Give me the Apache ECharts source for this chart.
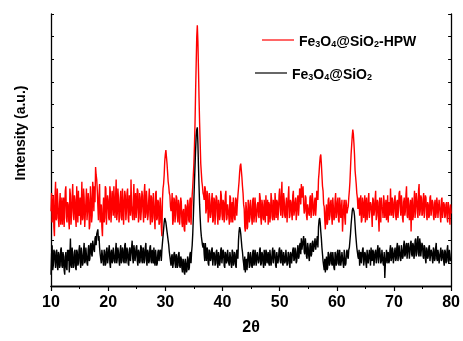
<!DOCTYPE html>
<html>
<head>
<meta charset="utf-8">
<script src="https://cdn.jsdelivr.net/npm/echarts@6/dist/echarts.min.js"></script>
<style>html,body{margin:0;padding:0;background:#fff}#c{width:463px;height:341px}</style>
</head>
<body>
<div id="c"></div>
<script>
// 2θ sampling (even tenths)
const twoTheta = [
10,10.2,10.4,10.6,10.8, 11,11.2,11.4,11.6,11.8, 12,12.2,12.4,12.6,12.8, 13,13.2,13.4,13.6,13.8, 14,14.2,14.4,14.6,14.8,
15,15.2,15.4,15.6,15.8, 16,16.2,16.4,16.6,16.8, 17,17.2,17.4,17.6,17.8, 18,18.2,18.4,18.6,18.8, 19,19.2,19.4,19.6,19.8,
20,20.2,20.4,20.6,20.8, 21,21.2,21.4,21.6,21.8, 22,22.2,22.4,22.6,22.8, 23,23.2,23.4,23.6,23.8, 24,24.2,24.4,24.6,24.8,
25,25.2,25.4,25.6,25.8, 26,26.2,26.4,26.6,26.8, 27,27.2,27.4,27.6,27.8, 28,28.2,28.4,28.6,28.8, 29,29.2,29.4,29.6,29.8,
30,30.2,30.4,30.6,30.8, 31,31.2,31.4,31.6,31.8, 32,32.2,32.4,32.6,32.8, 33,33.2,33.4,33.6,33.8, 34,34.2,34.4,34.6,34.8,
35,35.2,35.4,35.6,35.8, 36,36.2,36.4,36.6,36.8, 37,37.2,37.4,37.6,37.8, 38,38.2,38.4,38.6,38.8, 39,39.2,39.4,39.6,39.8,
40,40.2,40.4,40.6,40.8, 41,41.2,41.4,41.6,41.8, 42,42.2,42.4,42.6,42.8, 43,43.2,43.4,43.6,43.8, 44,44.2,44.4,44.6,44.8,
45,45.2,45.4,45.6,45.8, 46,46.2,46.4,46.6,46.8, 47,47.2,47.4,47.6,47.8, 48,48.2,48.4,48.6,48.8, 49,49.2,49.4,49.6,49.8,
50,50.2,50.4,50.6,50.8, 51,51.2,51.4,51.6,51.8, 52,52.2,52.4,52.6,52.8, 53,53.2,53.4,53.6,53.8, 54,54.2,54.4,54.6,54.8,
55,55.2,55.4,55.6,55.8, 56,56.2,56.4,56.6,56.8, 57,57.2,57.4,57.6,57.8, 58,58.2,58.4,58.6,58.8, 59,59.2,59.4,59.6,59.8,
60,60.2,60.4,60.6,60.8, 61,61.2,61.4,61.6,61.8, 62,62.2,62.4,62.6,62.8, 63,63.2,63.4,63.6,63.8, 64,64.2,64.4,64.6,64.8,
65,65.2,65.4,65.6,65.8, 66,66.2,66.4,66.6,66.8, 67,67.2,67.4,67.6,67.8, 68,68.2,68.4,68.6,68.8, 69,69.2,69.4,69.6,69.8,
70,70.2,70.4,70.6,70.8, 71,71.2,71.4,71.6,71.8, 72,72.2,72.4,72.6,72.8, 73,73.2,73.4,73.6,73.8, 74,74.2,74.4,74.6,74.8,
75,75.2,75.4,75.6,75.8, 76,76.2,76.4,76.6,76.8, 77,77.2,77.4,77.6,77.8, 78,78.2,78.4,78.6,78.8, 79,79.2,79.4,79.6,79.8,
80
];
// 2θ sampling (odd tenths)
const twoThetaOdd = [
10.1,10.3,10.5,10.7,10.9, 11.1,11.3,11.5,11.7,11.9, 12.1,12.3,12.5,12.7,12.9, 13.1,13.3,13.5,13.7,13.9, 14.1,14.3,14.5,14.7,14.9,
15.1,15.3,15.5,15.7,15.9, 16.1,16.3,16.5,16.7,16.9, 17.1,17.3,17.5,17.7,17.9, 18.1,18.3,18.5,18.7,18.9, 19.1,19.3,19.5,19.7,19.9,
20.1,20.3,20.5,20.7,20.9, 21.1,21.3,21.5,21.7,21.9, 22.1,22.3,22.5,22.7,22.9, 23.1,23.3,23.5,23.7,23.9, 24.1,24.3,24.5,24.7,24.9,
25.1,25.3,25.5,25.7,25.9, 26.1,26.3,26.5,26.7,26.9, 27.1,27.3,27.5,27.7,27.9, 28.1,28.3,28.5,28.7,28.9, 29.1,29.3,29.5,29.7,29.9,
30.1,30.3,30.5,30.7,30.9, 31.1,31.3,31.5,31.7,31.9, 32.1,32.3,32.5,32.7,32.9, 33.1,33.3,33.5,33.7,33.9, 34.1,34.3,34.5,34.7,34.9,
35.1,35.3,35.5,35.7,35.9, 36.1,36.3,36.5,36.7,36.9, 37.1,37.3,37.5,37.7,37.9, 38.1,38.3,38.5,38.7,38.9, 39.1,39.3,39.5,39.7,39.9,
40.1,40.3,40.5,40.7,40.9, 41.1,41.3,41.5,41.7,41.9, 42.1,42.3,42.5,42.7,42.9, 43.1,43.3,43.5,43.7,43.9, 44.1,44.3,44.5,44.7,44.9,
45.1,45.3,45.5,45.7,45.9, 46.1,46.3,46.5,46.7,46.9, 47.1,47.3,47.5,47.7,47.9, 48.1,48.3,48.5,48.7,48.9, 49.1,49.3,49.5,49.7,49.9,
50.1,50.3,50.5,50.7,50.9, 51.1,51.3,51.5,51.7,51.9, 52.1,52.3,52.5,52.7,52.9, 53.1,53.3,53.5,53.7,53.9, 54.1,54.3,54.5,54.7,54.9,
55.1,55.3,55.5,55.7,55.9, 56.1,56.3,56.5,56.7,56.9, 57.1,57.3,57.5,57.7,57.9, 58.1,58.3,58.5,58.7,58.9, 59.1,59.3,59.5,59.7,59.9,
60.1,60.3,60.5,60.7,60.9, 61.1,61.3,61.5,61.7,61.9, 62.1,62.3,62.5,62.7,62.9, 63.1,63.3,63.5,63.7,63.9, 64.1,64.3,64.5,64.7,64.9,
65.1,65.3,65.5,65.7,65.9, 66.1,66.3,66.5,66.7,66.9, 67.1,67.3,67.5,67.7,67.9, 68.1,68.3,68.5,68.7,68.9, 69.1,69.3,69.5,69.7,69.9,
70.1,70.3,70.5,70.7,70.9, 71.1,71.3,71.5,71.7,71.9, 72.1,72.3,72.5,72.7,72.9, 73.1,73.3,73.5,73.7,73.9, 74.1,74.3,74.5,74.7,74.9,
75.1,75.3,75.5,75.7,75.9, 76.1,76.3,76.5,76.7,76.9, 77.1,77.3,77.5,77.7,77.9, 78.1,78.3,78.5,78.7,78.9, 79.1,79.3,79.5,79.7,79.9
];

// Fe3O4@SiO2-HPW (red), at twoTheta
const hpwIntensity = [
3.3,2.8,4.0,2.2,4.6, 3.0,3.7,2.6,4.1,3.2, 2.7,3.9,3.4,4.4,2.8, 3.6,2.5,4.0,3.1,4.5, 2.9,3.8,2.6,3.5,4.2,
3.2,2.7,4.6,3.0,3.9, 2.6,4.3,3.3,3.8,2.7, 3.9,3.1,4.2,4.4,5.25, 4.7,3.5,4.0,2.8,3.6, 2.2,3.9,3.0,4.3,3.4,
3.8,2.9,4.1,3.3,3.7, 4.4,3.0,4.7,3.2,3.9, 3.1,4.2,2.9,3.8,3.4, 4.0,3.3,4.3,2.8,3.9, 4.7,3.2,3.8,2.9,4.1,
3.4,4.2,3.0,3.9,3.3, 4.0,2.8,4.5,3.2,3.7, 3.1,4.3,2.7,3.9,3.0, 3.6,2.5,4.2,3.0,3.7, 2.8,3.5,2.2,4.3,4.9,
5.8,5.7,5.0,4.4,4.0, 3.3,4.1,2.9,3.8,3.2, 3.9,2.8,3.6,3.1,3.7, 2.6,3.4,2.4,3.5,2.9, 3.6,2.8,3.9,3.4,4.4,
5.4,7.2,9.8,11.5,9.6, 7.2,5.4,4.6,4.1,3.8, 4.3,3.4,4.0,3.1,3.7, 3.2,4.1,2.9,3.8,3.3, 3.9,2.7,3.6,3.1,4.0,
2.9,3.7,3.2,4.2,3.0, 3.6,2.7,3.9,3.3,2.8, 3.5,2.9,3.8,3.6,4.3, 5.0,5.4,4.8,4.1,3.4, 2.4,3.4,2.6,3.6,3.0,
3.5,2.7,3.9,3.1,3.4, 2.8,3.7,3.0,3.9,2.7, 3.6,2.9,3.3,4.0,3.1, 2.7,3.6,3.1,3.8,2.9, 3.4,4.1,3.0,3.7,3.3,
4.3,3.1,4.6,3.2,3.8, 3.0,3.9,3.4,4.4,3.1, 3.7,2.9,4.2,3.3,3.9, 3.2,4.0,3.5,4.2,4.5, 4.0,3.6,3.3,3.9,2.9,
3.6,3.1,4.0,3.4,3.8, 3.2,3.9,3.5,4.1,4.7, 5.4,5.8,4.9,4.2,3.5, 2.5,3.6,2.8,3.9,3.1, 3.8,2.7,3.5,3.0,4.1,
3.2,3.9,2.8,3.6,3.3, 2.4,3.5,3.0,3.8,3.2, 3.5,4.2,5.2,6.2,6.9, 6.3,5.1,4.5,3.9,3.5, 3.1,4.0,2.9,3.7,3.4,
2.8,3.9,3.2,4.1,3.0, 3.6,2.6,3.8,3.3,4.2, 3.1,3.7,2.4,3.5,3.9, 3.4,4.0,3.0,3.8,3.2, 2.8,3.6,4.3,3.1,3.7,
3.3,4.0,2.9,3.8,3.4, 4.2,3.1,3.7,2.8,3.9, 3.3,4.4,3.0,3.6,3.2, 2.4,3.9,3.1,4.2,3.5, 3.8,3.0,4.5,3.3,3.9,
3.2,4.1,3.5,3.9,2.9, 3.6,3.1,4.0,3.4,3.7, 2.9,3.8,3.2,3.6,3.0, 3.5,2.8,3.9,3.3,3.6, 3.1,3.7,2.8,3.5,2.7,
3.2
];
// Fe3O4@SiO2-HPW (red), at twoThetaOdd
const hpwIntensityOdd = [
4.1,3.4,2.6,3.9,2.9, 4.3,2.9,3.6,2.7,3.9, 3.5,2.6,4.2,3.0,3.7, 2.9,4.3,2.7,3.9,3.3, 4.0,3.0,4.4,2.8,3.1,
3.9,3.5,2.9,4.3,2.6, 3.7,2.9,4.1,2.5,4.4, 2.8,4.6,3.3,3.7,4.9, 4.2,2.9,4.5,3.3,2.6, 3.4,2.8,4.4,2.7,4.0,
3.0,4.4,2.8,4.2,3.1, 3.6,3.9,2.9,4.3,2.8, 3.8,3.0,4.3,2.7,4.2, 2.9,4.1,3.0,4.0,3.1, 3.5,2.9,4.5,3.7,3.0,
4.3,2.8,4.1,2.9,4.2, 3.3,4.1,3.0,4.2,2.9, 3.8,3.2,4.0,2.8,4.1, 3.0,4.1,2.9,3.8,2.7, 3.9,2.6,3.8,4.5,5.5,
6.0,5.4,4.6,4.1,3.5, 3.6,2.7,3.9,2.8,4.0, 3.1,3.8,2.7,3.9,2.8, 3.3,2.5,3.6,2.7,3.8, 2.9,3.8,2.7,4.0,4.9,
6.2,8.6,11.0,10.8,8.3, 6.3,5.0,4.4,4.0,4.4, 3.2,4.2,2.8,4.1,3.0, 3.8,2.8,3.9,2.7,4.0, 3.1,3.8,2.9,4.2,3.2,
3.8,2.8,4.0,2.9,3.6, 3.1,4.0,2.8,3.7,3.9, 3.0,3.9,3.1,4.0,4.6, 5.3,5.1,4.4,3.6,2.6, 3.7,2.5,3.8,2.8,3.8,
3.0,3.8,2.8,3.9,2.8, 3.6,3.1,4.1,3.0,3.8, 3.0,3.8,2.8,3.2,3.8, 3.7,2.8,4.1,3.0,3.8, 2.9,3.6,3.8,2.9,4.0,
3.5,4.0,3.0,4.1,3.1, 3.6,2.8,3.9,3.0,3.8, 3.2,4.0,3.1,3.7,2.9, 3.8,3.1,4.3,3.6,3.9, 4.4,3.2,4.0,3.1,3.6,
3.2,3.9,3.0,4.1,3.1, 3.7,3.1,4.2,3.8,5.0, 5.7,5.4,4.4,3.6,2.9, 3.3,2.7,3.8,2.9,3.7, 3.1,3.9,2.9,3.8,3.0,
3.7,2.9,3.9,3.0,3.8, 3.0,3.8,2.7,3.6,3.4, 3.9,4.6,5.8,6.6,6.7, 5.8,4.8,4.1,3.4,3.9, 3.6,2.8,3.9,3.0,4.0,
3.5,2.9,3.8,3.0,3.7, 3.2,3.9,3.1,3.8,2.9, 3.8,3.0,3.9,2.8,3.5, 3.0,3.7,3.4,2.9,4.0, 3.7,3.1,3.5,3.9,3.0,
3.8,3.1,3.7,3.0,4.1, 3.5,4.0,3.0,3.7,3.1, 4.0,3.1,3.9,2.9,3.8, 3.5,2.9,3.7,3.0,4.1, 3.2,4.2,3.1,4.0,3.1,
3.8,3.0,4.0,3.1,3.7, 3.0,3.9,3.1,3.8,3.1, 3.6,3.0,3.9,3.0,3.8, 3.1,3.8,3.0,3.7,3.0, 3.6,3.0,3.7,3.2,3.6
];

// Fe3O4@SiO2 (black), at twoTheta
const sio2Intensity = [
0.5,1.8,0.9,1.5,0.8, 1.6,0.7,1.4,0.9,1.7, 0.8,1.3,0.5,1.5,0.7, 1.1,0.6,2.1,0.8,1.4, 0.9,1.6,0.7,1.5,1.0,
1.8,0.8,1.4,1.0,1.9, 1.1,1.7,0.9,1.8,1.2, 1.9,1.3,2.0,1.5,2.2, 2.3,2.5,2.2,1.4,1.0, 1.6,0.9,1.5,1.0,1.7,
1.2,1.8,0.8,1.6,1.1, 1.7,1.0,1.9,1.2,1.5, 0.9,1.8,1.1,1.6,1.0, 1.9,1.2,1.5,0.9,1.7, 1.1,2.0,1.0,1.6,1.3,
1.8,0.9,1.5,1.1,1.7, 1.0,1.6,1.2,1.9,0.9, 1.5,1.1,1.8,1.0,1.4, 1.7,0.9,1.3,1.0,1.6, 1.1,1.5,1.6,2.2,2.8,
2.95,2.6,2.2,1.8,1.3, 0.9,1.4,1.0,1.5,0.8, 1.3,0.9,1.5,0.8,1.2, 0.6,1.1,0.5,1.0,0.7, 1.2,0.8,1.5,1.5,2.3,
3.8,5.3,6.6,7.0,5.3, 3.6,2.5,2.0,1.7,1.4, 1.9,1.1,1.6,0.9,1.5, 1.2,1.7,0.9,1.4,1.0, 1.6,0.8,1.3,1.1,1.7,
1.0,1.5,0.8,1.4,1.1, 1.6,0.9,1.3,0.8,1.5, 1.0,1.4,0.8,1.5,2.0, 2.6,2.3,1.7,1.2,0.7, 0.6,1.2,0.7,1.4,0.9,
1.3,0.8,1.6,1.0,1.4, 0.9,1.5,1.1,1.7,1.0, 1.4,0.8,1.2,1.6,1.0, 1.5,0.9,1.3,1.1,1.7, 1.0,1.4,0.8,1.5,1.2,
1.7,1.0,1.5,0.9,1.3, 1.1,1.6,1.0,1.4,0.8, 1.4,1.0,1.7,1.2,1.5, 1.1,1.8,1.3,1.9,2.1, 1.6,2.2,1.4,1.8,1.2,
1.7,1.1,1.9,1.4,2.0, 1.5,2.1,1.6,2.2,2.6, 3.0,2.4,1.7,1.1,0.7, 0.6,1.3,0.8,1.4,1.0, 1.5,0.9,1.2,0.7,1.4,
1.0,1.6,0.9,1.3,1.1, 1.5,0.8,1.2,1.0,1.6, 1.2,1.7,2.3,3.0,3.45, 3.3,2.7,2.0,1.5,1.2, 0.9,1.5,1.0,1.7,1.1,
1.4,0.8,1.6,1.0,1.3, 1.7,1.1,1.5,0.9,1.6, 1.2,1.8,1.0,1.4,1.1, 1.6,0.9,0.35,1.3,1.0, 1.5,1.1,1.8,1.2,1.6,
1.0,1.7,1.2,1.9,1.3, 1.8,1.1,1.6,1.3,2.0, 1.4,1.9,1.2,1.7,1.5, 2.0,1.3,1.8,1.4,2.1, 1.5,2.2,1.3,1.9,1.6,
1.8,1.2,1.7,1.0,1.6, 1.3,1.8,1.1,1.5,1.0, 1.6,1.2,1.9,1.1,1.4, 1.0,1.7,1.2,1.5,0.9, 1.5,1.1,1.8,1.0,1.4,
1.2
];
// Fe3O4@SiO2 (black), at twoThetaOdd
const sio2IntensityOdd = [
1.4,0.7,1.6,1.1,1.5, 0.9,1.5,0.8,1.6,0.9, 1.5,0.7,1.3,0.8,1.6, 1.6,1.3,0.9,1.7,0.8, 1.5,0.8,1.6,0.9,1.6,
1.1,1.7,0.9,1.6,1.0, 1.7,1.0,1.6,1.1,1.8, 1.4,2.0,1.6,2.1,1.8, 2.4,2.0,1.7,1.2,1.6, 1.1,1.6,0.9,1.6,1.0,
1.6,1.0,1.5,1.0,1.7, 1.1,1.6,1.0,1.7,1.1, 1.6,1.0,1.7,1.1,1.8, 1.0,1.7,1.0,1.6,1.1, 1.7,1.2,1.8,1.1,1.7,
1.1,1.6,1.0,1.8,1.1, 1.7,1.0,1.7,1.1,1.6, 1.0,1.7,1.1,1.6,1.0, 1.1,1.6,0.9,1.5,1.1, 1.6,1.1,1.9,2.5,3.0,
2.8,2.4,2.0,1.5,1.1, 1.3,0.8,1.4,1.0,1.4, 0.8,1.4,0.9,1.3,0.8, 1.2,0.6,1.2,0.6,1.3, 0.7,1.4,1.0,1.8,3.0,
4.6,6.0,6.9,6.3,4.4, 3.0,2.2,1.8,1.9,1.1, 1.5,1.7,1.0,1.6,1.1, 1.6,0.9,1.5,0.9,1.5, 1.0,1.5,0.9,1.6,1.0,
1.6,0.9,1.5,1.0,1.6, 1.0,1.5,1.0,1.6,0.9, 1.5,0.9,1.6,1.2,2.4, 2.5,2.0,1.5,1.0,1.3, 1.1,0.7,1.5,0.8,1.5,
0.9,1.5,0.9,1.6,0.9, 1.5,1.0,1.6,0.9,1.5, 1.0,1.6,0.9,1.5,1.2, 1.0,1.6,0.9,1.5,1.0, 1.6,0.9,1.5,1.0,1.6,
1.1,1.6,1.0,1.5,1.0, 1.6,0.9,1.5,1.0,1.5, 1.0,1.6,1.1,1.7,1.0, 1.6,1.2,1.8,1.4,1.6, 2.0,1.5,2.1,1.3,1.9,
1.3,1.8,1.3,1.9,1.5, 1.9,1.6,2.0,1.7,2.9, 2.8,2.1,1.4,0.9,1.2, 1.0,0.7,1.5,0.9,1.4, 1.0,1.5,0.8,1.5,0.9,
1.5,1.0,1.6,0.9,1.5, 1.0,1.6,0.9,1.5,1.3, 1.6,2.0,2.7,3.3,3.4, 3.1,2.3,1.7,1.3,1.6, 1.4,1.0,1.6,0.9,1.5,
1.0,1.6,1.0,1.6,0.9, 1.3,1.6,0.9,1.5,1.0, 1.6,1.0,1.7,1.0,1.6, 1.0,1.5,1.0,1.6,1.4, 1.0,1.6,1.1,1.7,1.0,
1.5,1.1,1.7,1.1,1.8, 1.2,1.8,1.2,1.8,1.3, 1.8,1.2,1.9,1.2,1.9, 1.4,1.9,1.2,2.0,1.3, 2.0,1.4,2.1,1.3,1.9,
1.3,1.8,1.2,1.7,1.2, 1.7,1.1,1.6,1.2,1.7, 1.1,1.7,1.2,1.6,1.0, 1.5,1.1,1.6,1.1,1.6, 1.0,1.6,1.1,1.6,1.1
];

const xTickLabels = [10,20,30,40,50,60,70,80];
const seriesNames = ['Fe3O4@SiO2-HPW', 'Fe3O4@SiO2'];
const legendRich = {
  'Fe3O4@SiO2-HPW': '{n|Fe}{s|3}{n|O}{s|4}{n|@SiO}{s|2}{n|-HPW}',
  'Fe3O4@SiO2': '{n|Fe}{s|3}{n|O}{s|4}{n|@SiO}{s|2}'
};

function mergeSorted(xa, ya, xb, yb) {
  const pts = xa.map((x, i) => [x, ya[i]]).concat(xb.map((x, i) => [x, yb[i]]));
  pts.sort((p, q) => p[0] - q[0]);
  return pts;
}

const chart = echarts.init(document.getElementById('c'), null, {renderer: 'canvas'});
const font = 'Liberation Sans, Arial, sans-serif';
const richStyle = {
  n: {fontFamily: font, fontWeight: 'bold', fontSize: 14, color: '#000', lineHeight: 18, verticalAlign: 'bottom'},
  s: {fontFamily: font, fontWeight: 'bold', fontSize: 9, color: '#000', lineHeight: 6, verticalAlign: 'bottom'}
};

chart.setOption({
  animation: false,
  backgroundColor: '#fff',
  grid: {left: 51, right: 5, top: 14, bottom: 51, containLabel: false},
  legend: [
    {data: [{name: seriesNames[0], icon: 'rect'}], left: 257, top: 30, itemWidth: 32, itemHeight: 1.2,
     formatter: n => legendRich[n], textStyle: {rich: richStyle}, selectedMode: false},
    {data: [{name: seriesNames[1], icon: 'rect'}], left: 250, top: 63, itemWidth: 32, itemHeight: 1.2,
     formatter: n => legendRich[n], textStyle: {rich: richStyle}, selectedMode: false}
  ],
  xAxis: [
    {type: 'value', min: 10, max: 80, interval: 10, position: 'bottom',
     name: '2θ', nameLocation: 'middle', nameGap: 34,
     nameTextStyle: {fontFamily: font, fontWeight: 'bold', fontSize: 16, color: '#000'},
     axisLine: {show: true, lineStyle: {color: '#000', width: 1.3}},
     axisTick: {show: true, inside: false, length: 5, lineStyle: {color: '#000', width: 1.2}},
     minorTick: {show: true, splitNumber: 2, length: 3, lineStyle: {color: '#000', width: 1}},
     axisLabel: {fontFamily: font, fontWeight: 'bold', fontSize: 16, color: '#000', margin: 9,
       formatter: v => xTickLabels.includes(v) ? String(v) : ''},
     splitLine: {show: false}},
    {type: 'value', min: 10, max: 80, interval: 5, position: 'top',
     axisLine: {show: true, lineStyle: {color: '#000', width: 1.3}},
     axisTick: {show: true, inside: true, length: 3, lineStyle: {color: '#000', width: 1}},
     axisLabel: {show: false}, splitLine: {show: false}}
  ],
  yAxis: [
    {type: 'value', min: 0, max: 12, interval: 1, position: 'left',
     axisLine: {show: true, lineStyle: {color: '#000', width: 1.3}},
     axisTick: {show: true, inside: true, length: 3, lineStyle: {color: '#000', width: 1}},
     axisLabel: {show: false}, splitLine: {show: false}},
    {type: 'value', min: 0, max: 12, interval: 1, position: 'right',
     axisLine: {show: true, lineStyle: {color: '#000', width: 1.3}},
     axisTick: {show: true, inside: true, length: 3, lineStyle: {color: '#000', width: 1}},
     axisLabel: {show: false}, splitLine: {show: false}}
  ],
  graphic: [
    {type: 'text', x: 21, y: 133, rotation: Math.PI / 2,
     style: {text: 'Intensity (a.u.)', fontFamily: font, fontWeight: 'bold', fontSize: 14, fill: '#000',
       align: 'center', verticalAlign: 'middle'}}
  ],
  series: [
    {name: seriesNames[0], type: 'line', xAxisIndex: 0, yAxisIndex: 0,
     data: mergeSorted(twoTheta, hpwIntensity, twoThetaOdd, hpwIntensityOdd),
     showSymbol: false, symbol: 'none', lineStyle: {color: '#ff0000', width: 1.4}, itemStyle: {color: '#ff0000'}},
    {name: seriesNames[1], type: 'line', xAxisIndex: 0, yAxisIndex: 0,
     data: mergeSorted(twoTheta, sio2Intensity, twoThetaOdd, sio2IntensityOdd),
     showSymbol: false, symbol: 'none', lineStyle: {color: '#000000', width: 1.4}, itemStyle: {color: '#000000'}}
  ]
});
</script>
</body>
</html>
